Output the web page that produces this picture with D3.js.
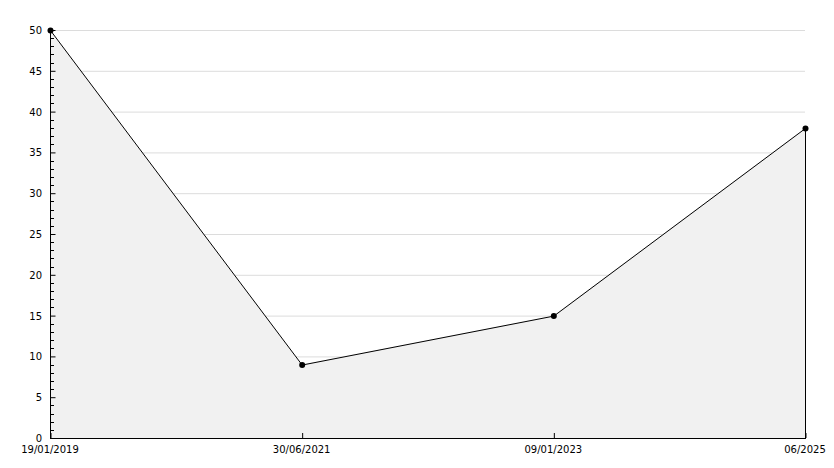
<!DOCTYPE html>
<html><head><meta charset="utf-8">
<script src="https://cdn.jsdelivr.net/npm/d3@7"></script>
<style>
body{margin:0;background:#fff;}
svg text{font-family:"DejaVu Sans",sans-serif;font-size:10px;fill:#000;}
</style></head>
<body><svg id="c" width="834" height="468"></svg>
<script>
const categories = ["19/01/2019","30/06/2021","09/01/2023","06/2025"];
const values = [50, 9, 15, 38];
const yTicks = [0,5,10,15,20,25,30,35,40,45,50];

const svg = d3.select("#c");
const L=50, R=805, T=30, B=438;
const x = d3.scalePoint().domain(categories).range([L,R]);
const y = d3.scaleLinear().domain([0,50]).range([B,T]);

// gridlines
svg.append("g").selectAll("line").data(yTicks.filter(d=>d>0)).join("line")
  .attr("x1",L).attr("x2",R).attr("y1",d=>y(d)+0.5).attr("y2",d=>y(d)+0.5)
  .attr("stroke","#dcdcdc").attr("stroke-width",1);

// area
const area = d3.area().x((d,i)=>x(categories[i])).y0(y(0)).y1(d=>y(d));
svg.append("path").datum(values).attr("d",area).attr("fill","#f1f1f1");

// right edge line
svg.append("line").attr("x1",R+0.5).attr("x2",R+0.5)
  .attr("y1",y(values[values.length-1])).attr("y2",B).attr("stroke","#000");

// line
const line = d3.line().x((d,i)=>x(categories[i])+0.5).y(d=>y(d)+0.5);
svg.append("path").datum(values).attr("d",line).attr("fill","none").attr("stroke","#000").attr("stroke-width",1);

// y axis
const ya = d3.axisRight(y).tickValues(yTicks).tickSize(5).tickFormat("");
const yg = svg.append("g").attr("transform",`translate(${L+0.5},0)`).call(ya);
yg.select(".domain").remove();
yg.selectAll(".tick line").attr("stroke","#000");
svg.append("line").attr("x1",L+0.5).attr("x2",L+0.5).attr("y1",T-2).attr("y2",B).attr("stroke","#000");
// minor ticks
svg.append("g").selectAll("line").data(d3.range(0,51).filter(d=>d%5!==0)).join("line")
  .attr("x1",L).attr("x2",L+4).attr("y1",d=>Math.round(y(d))+0.5).attr("y2",d=>Math.round(y(d))+0.5)
  .attr("stroke","#000");
// y labels
svg.append("g").selectAll("text").data(yTicks).join("text")
  .attr("x",42).attr("y",d=>y(d)+4).attr("text-anchor","end").text(d=>d);

// x axis
svg.append("line").attr("x1",L).attr("x2",R+1).attr("y1",B+0.5).attr("y2",B+0.5).attr("stroke","#000");
const xa = d3.axisTop(x).tickSize(5).tickFormat("");
const xg = svg.append("g").attr("transform",`translate(0.5,${B})`).call(xa);
xg.select(".domain").remove();
xg.selectAll(".tick line").attr("stroke","#000");
svg.append("g").selectAll("text").data(categories).join("text")
  .attr("x",d=>x(d)).attr("y",B+15).attr("text-anchor","middle").text(d=>d);

// markers
svg.append("g").selectAll("circle").data(values).join("circle")
  .attr("cx",(d,i)=>x(categories[i])+0.5).attr("cy",d=>y(d)+0.5).attr("r",3).attr("fill","#000");
</script></body></html>
